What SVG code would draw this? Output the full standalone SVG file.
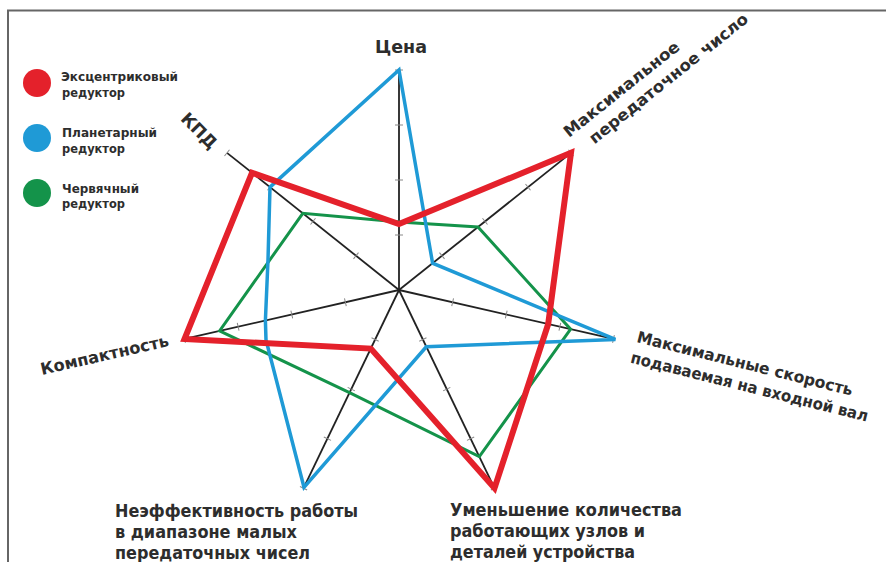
<svg xmlns="http://www.w3.org/2000/svg" width="887" height="562" viewBox="0 0 887 562">
<style>
.lbl{font-family:"DejaVu Sans","Verdana",sans-serif;font-weight:bold;fill:#2d2d2d}
.axis{stroke:#222;stroke-width:1.8;fill:none}
.tick{stroke:#888;stroke-width:1}
.series{fill:none;stroke-linejoin:miter}
</style>
<defs>
<g id="axisShape">
<line class="axis" x1="399" y1="290" x2="619" y2="290"/>
<path class="tick" d="M454,286V294M509,286V294M564,286V294M619,286V294"/>
</g>
</defs>
<rect x="0" y="0" width="887" height="562" fill="#fff"/>
<path d="M8,562V10.5H886" fill="none" stroke="#666" stroke-width="2"/>

<g id="legend">
<g id="legend-red">
<circle cx="37" cy="83" r="14" fill="#e4212b"/>
<text class="lbl" font-size="12.5"><tspan x="61" y="81" textLength="117" lengthAdjust="spacingAndGlyphs">Эксцентриковый</tspan><tspan x="62" y="97" textLength="63" lengthAdjust="spacingAndGlyphs">редуктор</tspan></text>
</g>
<g id="legend-blue">
<circle cx="37" cy="138" r="14" fill="#1f9ad6"/>
<text class="lbl" font-size="12.5"><tspan x="62" y="137" textLength="95" lengthAdjust="spacingAndGlyphs">Планетарный</tspan><tspan x="62" y="153" textLength="63" lengthAdjust="spacingAndGlyphs">редуктор</tspan></text>
</g>
<g id="legend-green">
<circle cx="37" cy="193" r="14" fill="#14934a"/>
<text class="lbl" font-size="12.5"><tspan x="62" y="193" textLength="77" lengthAdjust="spacingAndGlyphs">Червячный</tspan><tspan x="62" y="208" textLength="63" lengthAdjust="spacingAndGlyphs">редуктор</tspan></text>
</g>
</g>

<g id="axes">
<use href="#axisShape" transform="rotate(-90 399 290)"/>
<use href="#axisShape" transform="rotate(-38.571 399 290)"/>
<use href="#axisShape" transform="rotate(12.857 399 290)"/>
<use href="#axisShape" transform="rotate(64.286 399 290)"/>
<use href="#axisShape" transform="rotate(115.714 399 290)"/>
<use href="#axisShape" transform="rotate(167.143 399 290)"/>
<use href="#axisShape" transform="rotate(218.571 399 290)"/>
</g>

<g id="series">
<polygon id="green" class="series" stroke="#14934a" stroke-width="3" points="399,222 478,227 570.6,329.2 479.3,456.7 349.5,392.7 219.6,330.9 302.8,213.3"/>
<polygon id="blue" class="series" stroke="#1f9ad6" stroke-width="3.5" points="399,70 432.6,263.2 615.4,339.4 426.3,346.8 304,487.3 266,340 265.4,320.5 268,260 270,187.1"/>
<polygon id="red" class="series" stroke="#e4212b" stroke-width="6" points="399,224 571,152.8 548.2,324 494.5,488.2 370.8,348.6 184.5,339 252,172.8"/>
</g>

<g id="labels">
<text id="lbl-price" class="lbl" font-size="17.5" x="401" y="53" text-anchor="middle">Цена</text>
<text id="lbl-kpd" class="lbl" font-size="17" text-anchor="middle" transform="translate(195,135) rotate(45)">КПД</text>
<text id="lbl-ratio" class="lbl" font-size="16" transform="translate(569,138) rotate(-38.57)"><tspan x="0" y="0" textLength="143" lengthAdjust="spacingAndGlyphs">Максимальное</tspan><tspan x="16" y="21" textLength="198" lengthAdjust="spacingAndGlyphs">передаточное число</tspan></text>
<text id="lbl-speed" class="lbl" font-size="16" transform="translate(636,342) rotate(14)"><tspan x="0" y="0" textLength="222" lengthAdjust="spacingAndGlyphs">Максимальные скорость</tspan><tspan x="-1" y="21.5" textLength="244" lengthAdjust="spacingAndGlyphs">подаваемая на входной вал</tspan></text>
<text id="lbl-compact" class="lbl" font-size="16.5" transform="translate(42,375) rotate(-12.86)" textLength="131" lengthAdjust="spacingAndGlyphs">Компактность</text>
<text id="lbl-ineff" class="lbl" font-size="17"><tspan x="115" y="517" textLength="243" lengthAdjust="spacingAndGlyphs">Неэффективность работы</tspan><tspan x="115" y="538" textLength="182" lengthAdjust="spacingAndGlyphs">в диапазоне малых</tspan><tspan x="115" y="559" textLength="195" lengthAdjust="spacingAndGlyphs">передаточных чисел</tspan></text>
<text id="lbl-reduce" class="lbl" font-size="17"><tspan x="450" y="516" textLength="232" lengthAdjust="spacingAndGlyphs">Уменьшение количества</tspan><tspan x="450" y="537" textLength="195" lengthAdjust="spacingAndGlyphs">работающих узлов и</tspan><tspan x="450" y="558" textLength="185" lengthAdjust="spacingAndGlyphs">деталей устройства</tspan></text>
</g>
</svg>
